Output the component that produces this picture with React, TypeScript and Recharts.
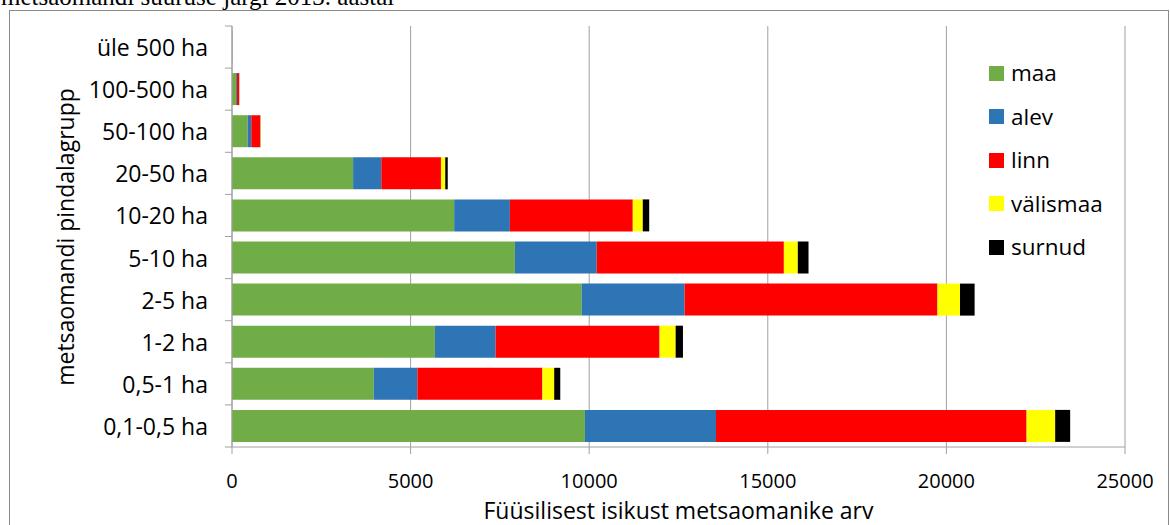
import React from 'react';
import { BarChart, Bar, XAxis, YAxis, CartesianGrid, Legend } from 'recharts';

const categories = ['üle 500 ha', '100-500 ha', '50-100 ha', '20-50 ha', '10-20 ha', '5-10 ha', '2-5 ha', '1-2 ha', '0,5-1 ha', '0,1-0,5 ha'];
const maa = [4, 115, 440, 3390, 6220, 7920, 9790, 5680, 3970, 9880];
const alev = [1, 25, 100, 790, 1560, 2290, 2880, 1700, 1220, 3670];
const linn = [4, 60, 250, 1670, 3440, 5240, 7080, 4590, 3500, 8695];
const valismaa = [0, 5, 10, 120, 280, 390, 630, 450, 330, 800];
const surnud = [0, 3, 5, 70, 180, 300, 410, 205, 170, 420];
const xTicks = [0, 5000, 10000, 15000, 20000, 25000];

const seriesDefs = [
  { key: 'maa', name: 'maa', color: '#70ad47' },
  { key: 'alev', name: 'alev', color: '#2e75b6' },
  { key: 'linn', name: 'linn', color: '#ff0000' },
  { key: 'valismaa', name: 'välismaa', color: '#ffff00' },
  { key: 'surnud', name: 'surnud', color: '#000000' },
];

const data = categories.map((name, i) => ({
  name,
  maa: maa[i],
  alev: alev[i],
  linn: linn[i],
  valismaa: valismaa[i],
  surnud: surnud[i],
}));

const FONT = '"Open Sans", sans-serif';
const GRID = '#a0a0a0';

const YTick = (props: any) => {
  const { y, payload, index } = props;
  const half = payload && payload.offset ? payload.offset : 21.05;
  const ax = 232;
  return (
    <g>
      <line x1={ax - 7} x2={ax} y1={y - half} y2={y - half} stroke={GRID} />
      {index === categories.length - 1 && (
        <line x1={ax - 7} x2={ax} y1={y + half} y2={y + half} stroke={GRID} />
      )}
      <text x={208} y={y} textAnchor="end" dominantBaseline="central" fontFamily={FONT} fontSize={23} fill="#000">
        {payload.value}
      </text>
    </g>
  );
};

const LegendContent = () => {
  return (
    <div style={{ position: 'relative', width: 160, height: 210 }}>
      {seriesDefs.map((s, i) => (
        <div key={s.key} style={{ position: 'absolute', left: 0, top: i * 43.5, height: 30, display: 'flex', alignItems: 'center' }}>
          <div style={{ width: 15, height: 15, background: s.color }} />
          <span style={{ marginLeft: 7, fontFamily: FONT, fontSize: 22.5, color: '#000', lineHeight: '30px', whiteSpace: 'nowrap' }}>{s.name}</span>
        </div>
      ))}
    </div>
  );
};

export default function App() {
  return (
    <div style={{ position: 'fixed', left: 0, top: 0, width: 1170, height: 525, overflow: 'hidden', background: '#fff' }}>
      <svg width={1170} height={20} style={{ position: 'absolute', left: 0, top: 0 }}>
        <text x={1} y={5} fontFamily='"Liberation Serif", serif' fontSize={25} fill="#000">
          metsaomandi suuruse järgi 2013. aastal
        </text>
      </svg>
      <div style={{ position: 'absolute', left: 9, top: 10, width: 1158, height: 600, border: '1px solid #8a8a8a' }} />
      <div style={{ position: 'absolute', left: 0, top: 0 }}>
        <BarChart
          width={1170}
          height={525}
          data={data}
          layout="vertical"
          margin={{ top: 26, right: 45, bottom: 18, left: 0 }}
          barSize={32}
        >
          <CartesianGrid horizontal={false} vertical={true} stroke={GRID} strokeWidth={1} />
          <XAxis
            type="number"
            domain={[0, 25000]}
            ticks={xTicks}
            interval={0}
            height={60}
            axisLine={{ stroke: GRID }}
            tickLine={{ stroke: GRID }}
            tickSize={7}
            tickMargin={20}
            tick={{ fontFamily: FONT, fontSize: 20, fill: '#000' }}
            label={{
              content: () => (
                <text x={678.5} y={510} textAnchor="middle" dominantBaseline="central" fontFamily={FONT} fontSize={23} fill="#000">
                  Füüsilisest isikust metsaomanike arv
                </text>
              ),
            }}
          />
          <YAxis
            type="category"
            dataKey="name"
            width={232}
            axisLine={{ stroke: GRID }}
            tickLine={false}
            interval={0}
            tick={<YTick />}
            label={{
              content: () => (
                <text
                  transform="translate(65,237) rotate(-90)"
                  textAnchor="middle"
                  dominantBaseline="central"
                  fontFamily={FONT}
                  fontSize={23}
                  fill="#000"
                >
                  metsaomandi pindalagrupp
                </text>
              ),
            }}
          />
          <Legend
            layout="vertical"
            align="center"
            verticalAlign="middle"
            content={<LegendContent />}
            wrapperStyle={{ position: 'absolute', left: 989, top: 58, width: 170 }}
          />
          {seriesDefs.map((s) => (
            <Bar key={s.key} dataKey={s.key} name={s.name} stackId="a" fill={s.color} isAnimationActive={false} />
          ))}
        </BarChart>
      </div>
    </div>
  );
}
